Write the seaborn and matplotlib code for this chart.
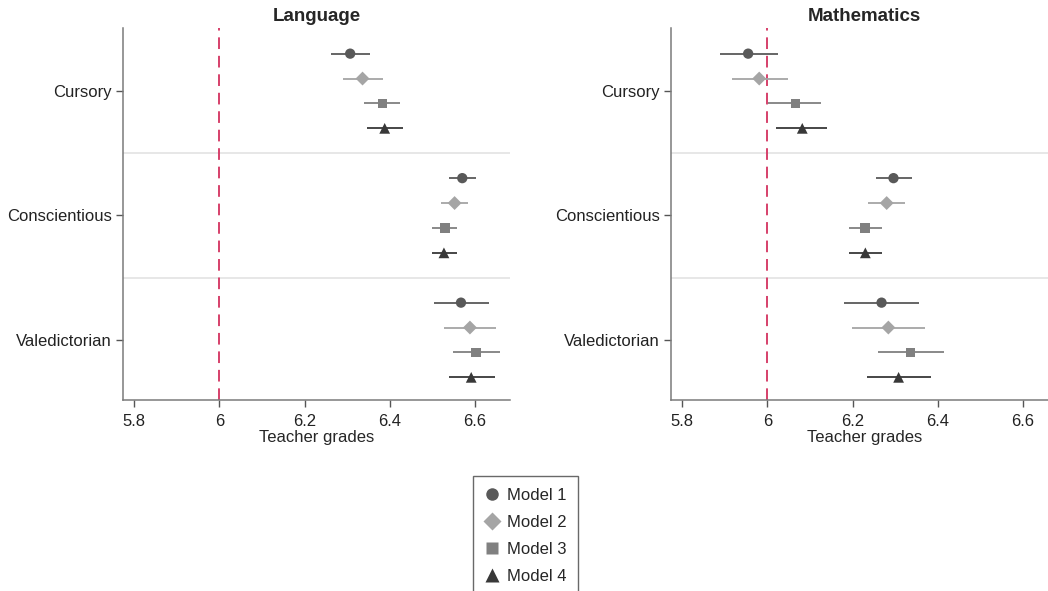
import numpy as np
import pandas as pd
import matplotlib
matplotlib.use("Agg")
import matplotlib.pyplot as plt
from matplotlib.lines import Line2D
import seaborn as sns

sns.set_style("white")
plt.rcParams["font.family"] = ["Liberation Sans", "DejaVu Sans"]
plt.rcParams["font.size"] = 12

categories = ["Cursory", "Conscientious", "Valedictorian"]
models = ["Model 1", "Model 2", "Model 3", "Model 4"]
subjects = ["Language", "Mathematics"]

# point estimates and 95% CI bounds, rows = categories, cols = models
lang_est = [[6.307, 6.336, 6.383, 6.388],
            [6.570, 6.552, 6.529, 6.527],
            [6.567, 6.588, 6.603, 6.591]]
lang_lo = [[6.261, 6.291, 6.340, 6.347],
           [6.538, 6.521, 6.500, 6.500],
           [6.503, 6.526, 6.548, 6.538]]
lang_hi = [[6.354, 6.383, 6.425, 6.432],
           [6.603, 6.584, 6.558, 6.558],
           [6.632, 6.650, 6.658, 6.647]]

math_est = [[5.955, 5.981, 6.066, 6.082],
            [6.296, 6.280, 6.230, 6.230],
            [6.268, 6.284, 6.336, 6.308]]
math_lo = [[5.890, 5.916, 6.002, 6.021],
           [6.254, 6.237, 6.192, 6.192],
           [6.181, 6.199, 6.259, 6.235]]
math_hi = [[6.024, 6.049, 6.127, 6.141],
            [6.340, 6.324, 6.270, 6.270],
            [6.355, 6.369, 6.414, 6.385]]

reference_grade = 6.0
x_ticks = [5.8, 6.0, 6.2, 6.4, 6.6]
x_tick_labels = ["5.8", "6", "6.2", "6.4", "6.6"]

model_colors = {"Model 1": "#595959", "Model 2": "#a5a5a5",
                "Model 3": "#808080", "Model 4": "#383838"}
model_markers = {"Model 1": "o", "Model 2": "D", "Model 3": "s", "Model 4": "^"}
model_sizes = {"Model 1": 55, "Model 2": 50, "Model 3": 50, "Model 4": 60}
offsets = [-0.3, -0.1, 0.1, 0.3]


def build_frame(est, lo, hi):
    rows = []
    for ci, cat in enumerate(categories):
        for mi, m in enumerate(models):
            rows.append({"category": cat, "model": m,
                         "ypos": ci + offsets[mi],
                         "est": est[ci][mi], "lo": lo[ci][mi], "hi": hi[ci][mi]})
    return pd.DataFrame(rows)


frames = {"Language": build_frame(lang_est, lang_lo, lang_hi),
          "Mathematics": build_frame(math_est, math_lo, math_hi)}

W, H = 1048, 591
fig = plt.figure(figsize=(W / 100, H / 100), dpi=100)
ax_w, ax_h = 387 / W, 372 / H
ax_b = (H - 400) / H
axes = [fig.add_axes([123 / W, ax_b, ax_w, ax_h]),
        fig.add_axes([671 / W, ax_b, ax_w, ax_h])]

spine_col = "#7a7a7a"
for ax, subj in zip(axes, subjects):
    df = frames[subj]
    # separators between category groups
    for yb in [0.5, 1.5]:
        ax.axhline(yb, color="#e3e3e3", lw=1.2, zorder=0)
    ax.axvline(reference_grade, color="#d6406a", lw=1.4,
               dashes=(6, 3.5), zorder=1)
    for m in models:
        sub = df[df["model"] == m]
        ax.hlines(sub["ypos"], sub["lo"], sub["hi"],
                  color=model_colors[m], lw=1.3, zorder=2)
        sns.scatterplot(data=sub, x="est", y="ypos", ax=ax,
                        color=model_colors[m], marker=model_markers[m],
                        s=model_sizes[m], edgecolor="none", zorder=3,
                        legend=False)
    ax.set_xlim(5.774, 6.682)
    ax.set_ylim(2.482, -0.506)
    ax.set_xticks(x_ticks)
    ax.set_xticklabels(x_tick_labels)
    ax.set_yticks(range(len(categories)))
    ax.set_yticklabels(categories)
    ax.set_xlabel("Teacher grades", labelpad=1, fontsize=12)
    ax.set_ylabel("")
    ax.set_title(subj, fontweight="bold", fontsize=13.5, pad=5)
    for side in ["top", "right"]:
        ax.spines[side].set_visible(False)
    for side in ["left", "bottom"]:
        ax.spines[side].set_color(spine_col)
        ax.spines[side].set_linewidth(1.1)
    ax.tick_params(axis="both", which="both", direction="out", length=5,
                   width=1.0, color="#555555", labelsize=12,
                   left=True, bottom=True, labelcolor="#222222")
    ax.tick_params(axis="x", pad=5)
    ax.tick_params(axis="y", pad=3)

handles = [Line2D([], [], linestyle="none", marker=model_markers[m],
                  color=model_colors[m],
                  markersize={"Model 1": 9, "Model 2": 9.5,
                              "Model 3": 8.5, "Model 4": 9.5}[m],
                  markeredgecolor="none", label=m) for m in models]
leg = fig.legend(handles=handles, loc="upper left",
                 bbox_to_anchor=(473 / W, 1 - 476 / H), frameon=True,
                 fancybox=False, edgecolor="#444444", fontsize=12,
                 handlelength=0.9, handletextpad=0.45, labelspacing=0.72,
                 borderpad=0.7, borderaxespad=0)
leg.get_frame().set_linewidth(1.0)

fig.savefig("out.png", dpi=100)
